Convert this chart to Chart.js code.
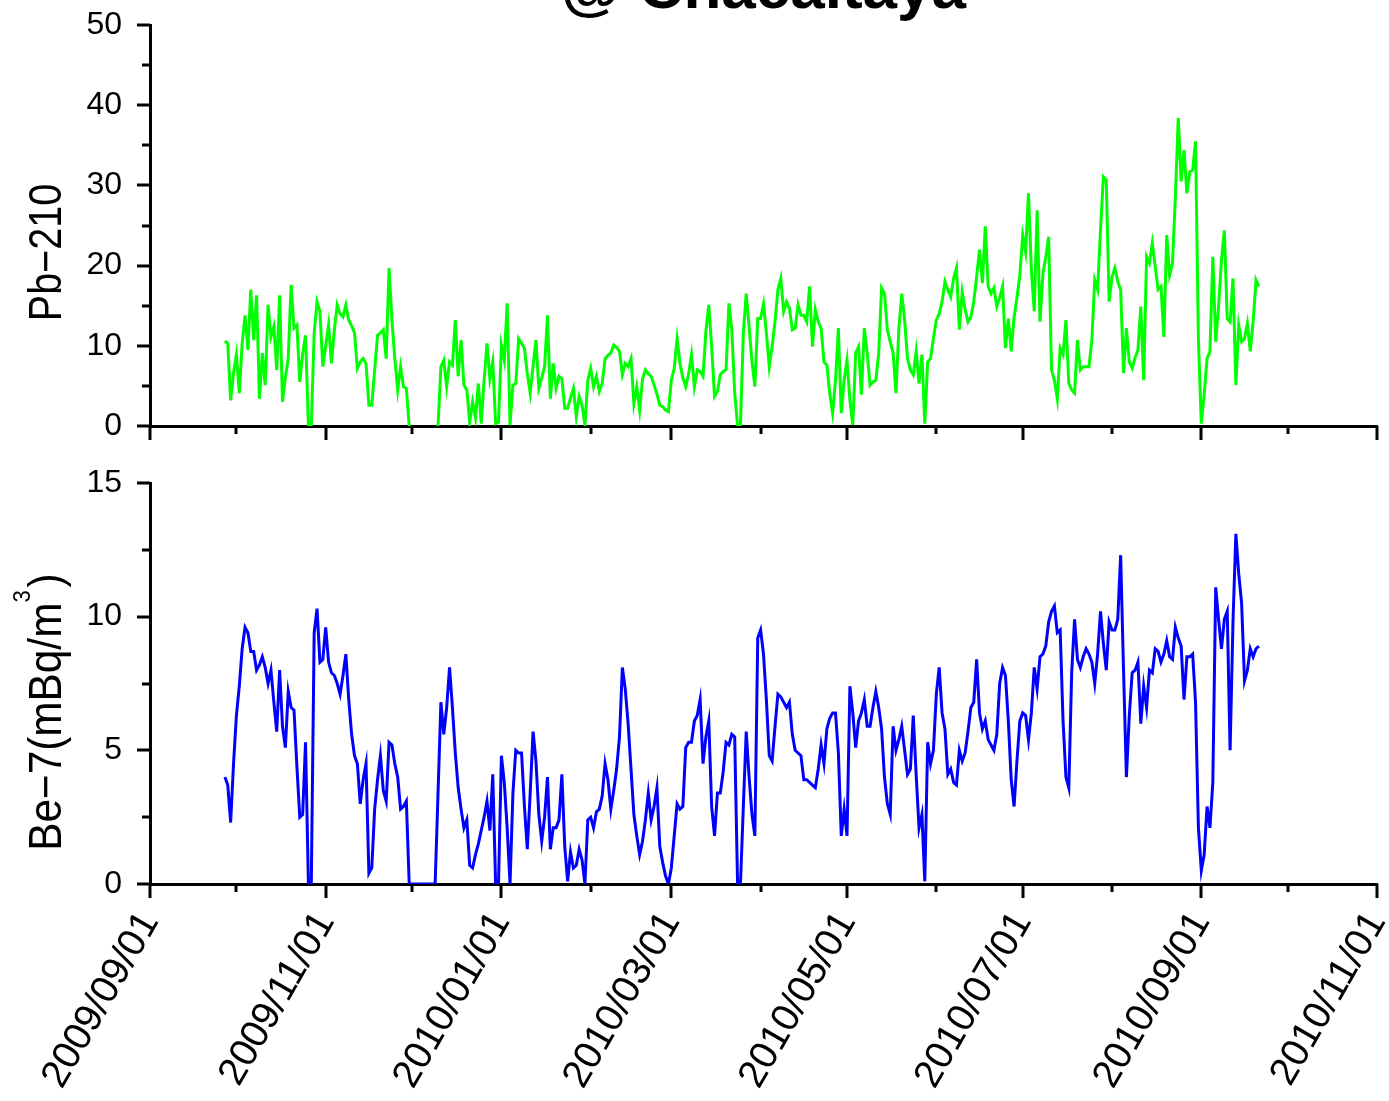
<!DOCTYPE html>
<html>
<head>
<meta charset="utf-8">
<title>@ Chacaltaya</title>
<script src="https://cdn.jsdelivr.net/npm/chart.js@4.4.0/dist/chart.umd.min.js"></script>
<style>
  html, body { margin: 0; padding: 0; background: #fff; }
  #wrap { position: relative; width: 1389px; height: 1101px; overflow: hidden; background: #fff; }
  #pb { position: absolute; left: 0; top: -40px; }
  #be { position: absolute; left: 0; top: 440px; }
</style>
</head>
<body>
<div id="wrap">
  <canvas id="pb" width="1389" height="480"></canvas>
  <canvas id="be" width="1389" height="661"></canvas>
</div>
<script>
// Month ticks along the time axis; every second month carries a label.
const tickDates = ['2009/09/01', '2009/10/01', '2009/11/01', '2009/12/01', '2010/01/01',
  '2010/02/01', '2010/03/01', '2010/04/01', '2010/05/01', '2010/06/01', '2010/07/01',
  '2010/08/01', '2010/09/01', '2010/10/01', '2010/11/01'];
const labelledDates = ['2009/09/01', '2009/11/01', '2010/01/01', '2010/03/01',
  '2010/05/01', '2010/07/01', '2010/09/01', '2010/11/01'];

// Value-axis ticks for each panel.
const pbTicks = [0, 10, 20, 30, 40, 50];
const beTicks = [0, 5, 10, 15];

// Daily series, one value per day starting at firstDate (null = no sample).
const firstDate = '2009/09/27';

// Pb-210 (mBq/m3)
const pb210 = [
  10.6, 10.3, 3.2, 6.6, 8.9, 4.1, 10.3, 13.8, 9.5, 17.0,
  10.7, 16.3, 3.4, 9.1, 5.1, 15.1, 11.1, 12.4, 7.0, 16.3,
  3.0, 6.0, 8.5, 17.6, 12.2, 12.6, 5.5, 9.0, 11.3, 0,
  0, 11.6, 15.5, 14.3, 7.4, 10.0, 12.6, 7.8, 12.0, 15.1,
  14.0, 13.6, 15.1, 13.2, 12.5, 11.6, 7.2, 8.0, 8.4, 7.8,
  2.6, 2.6, 7.0, 11.3, 11.6, 12.0, 8.4, 19.7, 13.2, 8.4,
  4.5, 7.4, 4.9, 4.7, 0, null, null, null, null, null,
  null, null, null, null, 0, 7.4, 8.2, 4.9, 8.0, 7.6,
  13.2, 6.2, 10.7, 5.1, 4.5, 0.5, 3.0, 1.0, 5.3, 0.3,
  5.7, 10.3, 5.9, 8.0, 0.3, 0.5, 10.1, 8.2, 15.3, 0.1,
  5.1, 5.3, 10.9, 10.3, 9.7, 6.5, 4.1, 7.5, 10.7, 4.7,
  6.0, 7.4, 13.8, 3.4, 7.8, 4.7, 6.2, 5.9, 2.2, 2.2,
  3.5, 4.7, 1.2, 3.7, 2.6, 0.1, 5.7, 7.2, 4.9, 6.2,
  4.3, 5.3, 8.4, 8.8, 9.1, 10.1, 9.8, 9.3, 6.4, 7.8,
  7.4, 8.4, 2.8, 4.9, 2.0, 5.9, 7.0, 6.5, 6.2, 5.1,
  4.0, 2.6, 2.4, 2.0, 1.8, 5.7, 7.2, 10.9, 7.8, 6.0,
  4.9, 6.5, 8.9, 4.9, 7.0, 6.8, 6.2, 11.8, 15.1, 9.9,
  3.7, 4.3, 6.4, 6.8, 7.0, 15.3, 12.0, 4.1, 0.1, 0.1,
  11.6, 16.5, 12.4, 8.0, 4.9, 13.4, 13.4, 15.2, 11.6, 7.4,
  9.9, 13.0, 17.0, 18.4, 14.3, 15.5, 14.7, 12.0, 12.2, 15.1,
  13.8, 13.8, 13.0, 17.4, 9.9, 14.5, 13.0, 12.2, 8.0, 7.6,
  4.1, 1.6, 5.7, 12.2, 1.6, 5.7, 8.2, 3.2, 0.1, 9.1,
  9.9, 3.9, 12.2, 9.1, 5.1, 5.5, 5.7, 9.1, 17.2, 16.5,
  12.0, 10.5, 9.1, 4.1, 12.2, 16.5, 13.2, 8.4, 7.0, 6.4,
  9.3, 5.3, 8.9, 0.3, 8.0, 8.4, 11.0, 13.2, 14.0, 15.5,
  18.0, 17.0, 16.1, 18.4, 19.7, 12.0, 16.7, 14.5, 13.0, 13.6,
  15.5, 18.6, 22.0, 17.8, 24.9, 17.4, 16.5, 17.2, 14.9, 16.0,
  17.4, 9.7, 13.4, 9.3, 13.6, 16.0, 18.8, 23.8, 21.7, 29.0,
  19.5, 14.3, 26.9, 13.0, 19.0, 21.0, 23.6, 7.0, 5.7, 3.4,
  9.7, 8.9, 13.2, 5.3, 4.5, 4.1, 10.7, 7.0, 7.4, 7.4,
  7.4, 10.7, 18.2, 17.0, 24.4, 31.1, 30.7, 15.5, 18.6, 19.7,
  18.0, 17.0, 6.6, 12.2, 8.0, 7.2, 8.5, 9.5, 14.9, 5.7,
  21.1, 20.3, 22.8, 19.9, 17.0, 17.4, 11.1, 23.8, 18.8, 20.3,
  28.6, 38.4, 30.5, 34.4, 29.0, 31.7, 31.9, 35.5, 10.7, 0.3,
  3.9, 8.4, 9.3, 21.1, 10.5, 14.9, 20.7, 24.4, 13.4, 13.0,
  18.4, 5.1, 12.6, 10.5, 10.9, 12.8, 9.3, 13.0, 18.2, 17.4
];

// Be-7 (mBq/m3)
const be7 = [
  4.0, 3.7, 2.3, 4.5, 6.3, 7.4, 8.8, 9.6, 9.4, 8.7,
  8.7, 8.0, 8.2, 8.5, 8.1, 7.5, 8.0, 6.8, 5.7, 8.0,
  5.9, 5.1, 7.2, 6.6, 6.5, 4.4, 2.5, 2.6, 5.3, 0,
  0, 9.4, 10.3, 8.3, 8.4, 9.6, 8.3, 7.9, 7.8, 7.5,
  7.1, 7.8, 8.6, 6.9, 5.6, 4.8, 4.5, 3.0, 3.9, 4.5,
  0.4, 0.6, 2.8, 3.9, 4.8, 3.5, 3.1, 5.3, 5.2, 4.5,
  4.0, 2.8, 2.9, 3.1, 0, 0, 0, 0, 0, 0,
  0, 0, 0, 0, 3.4, 6.8, 5.6, 6.6, 8.1, 6.6,
  4.9, 3.6, 2.8, 2.1, 2.4, 0.7, 0.6, 1.1, 1.5, 2.0,
  2.5, 3.1, 2.0, 4.1, 0, 0, 4.8, 3.8, 2.1, 0,
  3.4, 5.0, 4.9, 4.9, 2.9, 1.3, 3.4, 5.7, 4.6, 2.6,
  1.6, 2.5, 4.0, 1.3, 2.1, 2.1, 2.4, 4.1, 1.4, 0.1,
  1.2, 0.6, 0.7, 1.3, 0.9, 0, 2.4, 2.5, 2.1, 2.7,
  2.8, 3.3, 4.5, 3.9, 2.8, 3.5, 4.3, 5.5, 8.1, 7.3,
  6.0, 4.3, 2.6, 1.8, 1.1, 1.6, 2.4, 3.4, 2.4, 2.9,
  3.6, 1.4, 0.8, 0.3, 0, 0.6, 1.8, 3.0, 2.8, 2.9,
  5.1, 5.3, 5.3, 6.1, 6.3, 6.9, 4.5, 5.5, 6.1, 2.9,
  1.8, 3.4, 3.4, 4.2, 5.3, 5.2, 5.6, 5.5, 0, 0,
  2.9, 5.7, 4.0, 2.6, 1.8, 9.2, 9.5, 8.6, 6.9, 4.8,
  4.6, 5.9, 7.1, 7.0, 6.8, 6.6, 6.8, 5.6, 5.0, 4.9,
  4.8, 3.9, 3.9, 3.8, 3.7, 3.6, 4.3, 5.2, 4.5, 5.8,
  6.2, 6.4, 6.4, 4.9, 1.8, 2.8, 1.8, 7.4, 6.4, 5.1,
  6.1, 6.4, 6.9, 5.9, 5.9, 6.6, 7.2, 6.6, 5.8, 4.0,
  3.0, 2.6, 5.9, 5.0, 5.4, 5.9, 5.0, 4.1, 4.3, 6.3,
  4.1, 2.1, 2.6, 0.1, 5.3, 4.5, 5.0, 7.1, 8.1, 6.4,
  5.8, 4.1, 4.3, 3.8, 3.7, 5.0, 4.6, 4.9, 5.7, 6.6,
  6.8, 8.4, 6.4, 5.8, 6.1, 5.4, 5.2, 5.0, 5.6, 7.5,
  8.1, 7.8, 6.1, 3.9, 2.9, 4.6, 6.1, 6.4, 6.3, 5.4,
  6.4, 8.1, 7.3, 8.5, 8.6, 8.9, 9.8, 10.2, 10.4, 9.4,
  9.5, 6.1, 4.0, 3.6, 7.9, 9.9, 8.4, 8.1, 8.5, 8.8,
  8.6, 8.3, 7.5, 8.6, 10.2, 9.0, 8.0, 9.8, 9.5, 9.5,
  9.9, 12.3, 8.0, 4.0, 6.3, 7.9, 8.0, 8.3, 6.0, 7.4,
  6.6, 8.0, 7.9, 8.8, 8.7, 8.3, 8.6, 9.1, 8.5, 8.4,
  9.6, 9.2, 8.9, 6.9, 8.5, 8.5, 8.6, 6.8, 2.1, 0.5,
  1.1, 2.9, 2.1, 3.8, 11.1, 9.9, 8.8, 9.9, 10.2, 5.0,
  9.8, 13.1, 11.6, 10.5, 7.6, 8.0, 8.8, 8.5, 8.8, 8.9
];

// ---- helpers ---------------------------------------------------------------
const DAY = 86400000;
const ORIGIN = Date.UTC(2009, 8, 1);
function dayNum(s) {
  const [y, m, d] = s.split('/').map(Number);
  return (Date.UTC(y, m - 1, d) - ORIGIN) / DAY;
}
function toPoints(values) {
  const d0 = dayNum(firstDate);
  return values.map((v, i) => ({ x: d0 + i, y: v }));
}
const xMin = dayNum(tickDates[0]);
const xMax = dayNum(tickDates[tickDates.length - 1]);
const tickDays = tickDates.map(dayNum);
const labelByDay = {};
labelledDates.forEach(s => { labelByDay[dayNum(s)] = s; });

const BASE_FONT = '"Liberation Sans", Arial, sans-serif';
Chart.defaults.font.family = BASE_FONT;
Chart.defaults.color = '#000';

// Outward tick marks (long on labelled values, short in between) and the
// rotated, slightly condensed axis title with an optional superscript part.
const axisMarks = {
  id: 'axisMarks',
  beforeDatasetsDraw(chart, args, o) {
    const { ctx, chartArea: a, scales: { x, y } } = chart;
    ctx.save();
    ctx.strokeStyle = '#000';
    ctx.lineWidth = 3;
    ctx.beginPath();
    tickDates.forEach(s => {
      const px = Math.round(x.getPixelForValue(dayNum(s)));
      const len = labelledDates.includes(s) ? 14 : 8;
      ctx.moveTo(px, a.bottom);
      ctx.lineTo(px, a.bottom + len);
    });
    o.yTicks.forEach((v, i) => {
      const py = Math.round(y.getPixelForValue(v));
      ctx.moveTo(a.left, py);
      ctx.lineTo(a.left - 13, py);
      if (i < o.yTicks.length - 1) {
        const pm = Math.round(y.getPixelForValue((v + o.yTicks[i + 1]) / 2));
        ctx.moveTo(a.left, pm);
        ctx.lineTo(a.left - 8, pm);
      }
    });
    ctx.stroke();
    ctx.restore();
  },
  afterDraw(chart, args, o) {
    const { ctx, chartArea: a } = chart;
    const main = '46px ' + BASE_FONT;
    const sup = '24px ' + BASE_FONT;
    ctx.save();
    ctx.fillStyle = '#000';
    ctx.textBaseline = 'alphabetic';
    ctx.textAlign = 'left';
    let total = 0;
    o.title.forEach(p => { ctx.font = p.sup ? sup : main; total += ctx.measureText(p.text).width; });
    ctx.translate(o.titleX, (a.top + a.bottom) / 2 + o.titleShift);
    ctx.rotate(-Math.PI / 2);
    ctx.scale(o.condense, 1);
    let cx = -total / 2;
    o.title.forEach(p => {
      ctx.font = p.sup ? sup : main;
      ctx.fillText(p.text, cx, p.sup ? -31 : 0);
      cx += ctx.measureText(p.text).width + (p.sup ? 3 : 0);
    });
    ctx.restore();
  }
};

function xScale(showLabels, height) {
  return {
    type: 'linear',
    min: xMin,
    max: xMax,
    grid: { display: false, drawTicks: false },
    border: { display: true, color: '#000', width: 3 },
    afterBuildTicks(scale) { scale.ticks = tickDays.map(v => ({ value: v })); },
    afterFit(scale) {
      scale.height = height;
      scale.paddingLeft = 0;
      scale.paddingRight = 0;
    },
    ticks: {
      display: showLabels,
      autoSkip: false,
      minRotation: 60,
      maxRotation: 60,
      padding: 20,
      font: { size: 39 },
      color: '#000',
      callback: v => labelByDay[v] || ''
    }
  };
}

function yScale(ticks) {
  return {
    type: 'linear',
    min: ticks[0],
    max: ticks[ticks.length - 1],
    grid: { display: false, drawTicks: false },
    border: { display: true, color: '#000', width: 3 },
    afterBuildTicks(scale) { scale.ticks = ticks.map(v => ({ value: v })); },
    afterFit(scale) {
      scale.width = 150;
      scale.paddingTop = 0;
      scale.paddingBottom = 0;
    },
    ticks: { padding: 28, font: { size: 32 }, color: '#000' }
  };
}

function lineSet(values, color) {
  return {
    data: toPoints(values),
    borderColor: color,
    backgroundColor: color,
    borderWidth: 3,
    pointRadius: 0,
    tension: 0,
    spanGaps: false
  };
}

new Chart(document.getElementById('pb'), {
  type: 'line',
  data: { datasets: [lineSet(pb210, '#00ff00')] },
  plugins: [axisMarks],
  options: {
    responsive: false,
    animation: false,
    events: [],
    layout: { padding: { left: 0, right: 12, top: 0, bottom: 0 } },
    scales: { x: xScale(false, 14), y: yScale(pbTicks) },
    plugins: {
      legend: { display: false },
      tooltip: { enabled: false },
      title: {
        display: true,
        text: '@ Chacaltaya',
        fullSize: false,
        color: '#000',
        font: { size: 62, weight: 'bold', lineHeight: 1.0 },
        padding: { top: 0, bottom: 3 }
      },
      axisMarks: {
        yTicks: pbTicks,
        titleX: 61,
        titleShift: 27,
        condense: 0.86,
        title: [{ text: 'Pb\u2212210' }]
      }
    }
  }
});

new Chart(document.getElementById('be'), {
  type: 'line',
  data: { datasets: [lineSet(be7, '#0000ff')] },
  plugins: [axisMarks],
  options: {
    responsive: false,
    animation: false,
    events: [],
    layout: { padding: { left: 0, right: 12, top: 43, bottom: 0 } },
    scales: { x: xScale(true, 217), y: yScale(beTicks) },
    plugins: {
      legend: { display: false },
      tooltip: { enabled: false },
      title: { display: false },
      axisMarks: {
        yTicks: beTicks,
        titleX: 61,
        titleShift: 30,
        condense: 0.92,
        title: [{ text: 'Be\u22127(mBq/m' }, { text: '3', sup: true }, { text: ')' }]
      }
    }
  }
});
</script>
</body>
</html>
